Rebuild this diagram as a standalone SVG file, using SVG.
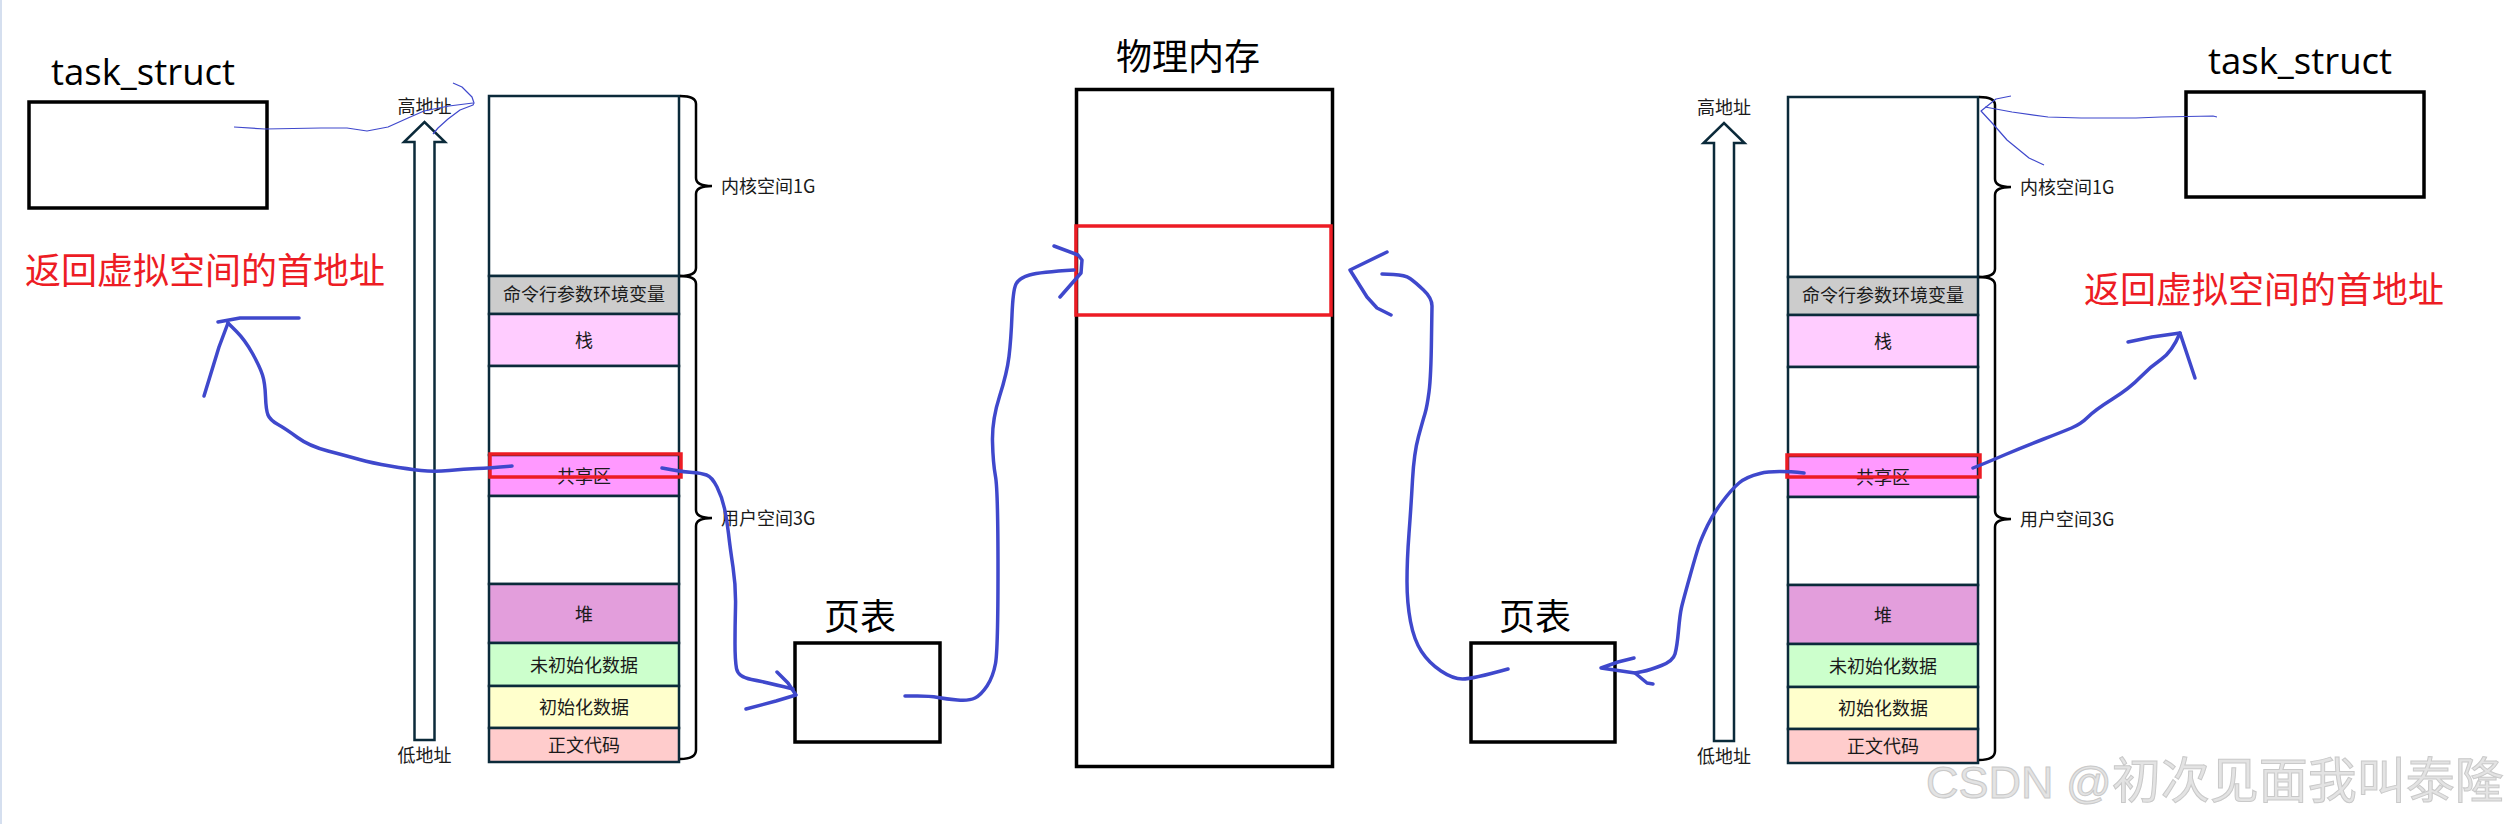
<svg xmlns="http://www.w3.org/2000/svg" width="2511" height="824" viewBox="0 0 2511 824">
<style>
text{font-family:"Noto Sans CJK SC","Liberation Sans",sans-serif;fill:#000}
.s{font-size:18px;text-anchor:middle;dominant-baseline:central;fill:#1a1a1a}
.l{font-size:18px;dominant-baseline:central;fill:#1a1a1a}
.b{font-size:36px;text-anchor:middle;dominant-baseline:central}
.r{font-size:36px;text-anchor:middle;dominant-baseline:central;fill:#ed1c24}
.t{font-family:"Open Sans","Liberation Sans",sans-serif;font-size:36.500px;text-anchor:middle}
.box{fill:#fff;stroke:#000;stroke-width:3.5}
.row{stroke:#0b2a3a;stroke-width:2.5}
.hl{fill:none;stroke:#ed1c24;stroke-width:3.5}
.br{fill:none;stroke:#000;stroke-width:2.5}
.ar{fill:#fff;stroke:#0b2a3a;stroke-width:2.5}
.p{fill:none;stroke:#3f48cc;stroke-width:3.5;stroke-linejoin:round;stroke-linecap:round}
.q{fill:none;stroke:#3f48cc;stroke-width:1.2;stroke-linejoin:round}
.wm{font-family:"Liberation Sans","Noto Sans CJK SC",sans-serif;font-size:45px;fill:#e3e3e3;stroke:#c9c9c9;stroke-width:1}
.wm tspan{font-family:"Noto Sans CJK SC",sans-serif;font-size:49px}
</style>
<rect width="2511" height="824" fill="#fff"/>
<rect width="2" height="824" fill="#d5dfef"/>
<g id="left-task-struct">
<text class="t" x="143" y="85">task_struct</text>
<rect class="box" x="29" y="102" width="238" height="106"/>
</g>
<text class="r" x="205" y="268">返回虚拟空间的首地址</text>
<g id="left-address-axis">
<path class="ar" d="M414.500,740V142H404L424.500,122L445,142H434.500V740Z"/>
<text class="s" x="424.500" y="104.500">高地址</text>
<text class="s" x="424.500" y="754">低地址</text>
</g>
<g id="left-virtual-space">
<rect class="row" x="489" y="96" width="190" height="180" fill="#fff"/>
<rect class="row" x="489" y="276" width="190" height="38" fill="#ccc"/>
<rect class="row" x="489" y="314" width="190" height="52" fill="#fcf"/>
<rect class="row" x="489" y="366" width="190" height="89" fill="#fff"/>
<rect class="row" x="489" y="455" width="190" height="41" fill="#f9f"/>
<rect class="row" x="489" y="496" width="190" height="88" fill="#fff"/>
<rect class="row" x="489" y="584" width="190" height="59" fill="#e39edc"/>
<rect class="row" x="489" y="643" width="190" height="43" fill="#cfc"/>
<rect class="row" x="489" y="686" width="190" height="42" fill="#ffc"/>
<rect class="row" x="489" y="728" width="190" height="34" fill="#fcc"/>
<text class="s" x="584" y="293">命令行参数环境变量</text>
<text class="s" x="584" y="339">栈</text>
<text class="s" x="584" y="475">共享区</text>
<text class="s" x="584" y="613">堆</text>
<text class="s" x="584" y="664">未初始化数据</text>
<text class="s" x="584" y="706">初始化数据</text>
<text class="s" x="584" y="744">正文代码</text>
<rect class="hl" x="490" y="454" width="191" height="23"/>
<path class="br" d="M680,96Q696,96 696,104V178Q696,186 712,186Q696,186 696,194V268Q696,276 680,276"/>
<path class="br" d="M680,276Q696,276 696,284V510Q696,518 712,518Q696,518 696,526V750Q696,759 680,759"/>
<text class="l" x="721" y="185">内核空间1G</text>
<text class="l" x="721" y="517">用户空间3G</text>
</g>
<g id="left-page-table">
<text class="b" x="860" y="613.500">页表</text>
<rect class="box" x="795" y="643" width="145" height="99"/>
</g>
<g id="physical-memory">
<text class="b" x="1188" y="53.500">物理内存</text>
<rect class="box" x="1076.500" y="89.500" width="256" height="677"/>
<rect class="hl" x="1076" y="226" width="255" height="89"/>
</g>
<g id="right-page-table">
<text class="b" x="1535" y="613.500">页表</text>
<rect class="box" x="1471" y="643" width="144" height="99"/>
</g>
<g id="right-virtual-space">
<rect class="row" x="1788" y="97" width="190" height="180" fill="#fff"/>
<rect class="row" x="1788" y="277" width="190" height="38" fill="#ccc"/>
<rect class="row" x="1788" y="315" width="190" height="52" fill="#fcf"/>
<rect class="row" x="1788" y="367" width="190" height="89" fill="#fff"/>
<rect class="row" x="1788" y="456" width="190" height="41" fill="#f9f"/>
<rect class="row" x="1788" y="497" width="190" height="88" fill="#fff"/>
<rect class="row" x="1788" y="585" width="190" height="59" fill="#e39edc"/>
<rect class="row" x="1788" y="644" width="190" height="43" fill="#cfc"/>
<rect class="row" x="1788" y="687" width="190" height="42" fill="#ffc"/>
<rect class="row" x="1788" y="729" width="190" height="34" fill="#fcc"/>
<text class="s" x="1883" y="294">命令行参数环境变量</text>
<text class="s" x="1883" y="340">栈</text>
<text class="s" x="1883" y="476">共享区</text>
<text class="s" x="1883" y="614">堆</text>
<text class="s" x="1883" y="665">未初始化数据</text>
<text class="s" x="1883" y="707">初始化数据</text>
<text class="s" x="1883" y="745">正文代码</text>
<rect class="hl" x="1787" y="455" width="193" height="22"/>
<path class="br" d="M1979,97Q1995,97 1995,105V179Q1995,187 2011,187Q1995,187 1995,195V269Q1995,277 1979,277"/>
<path class="br" d="M1979,277Q1995,277 1995,285V511Q1995,519 2011,519Q1995,519 1995,527V751Q1995,760 1979,760"/>
<text class="l" x="2020" y="186">内核空间1G</text>
<text class="l" x="2020" y="518">用户空间3G</text>
</g>
<g id="right-address-axis">
<path class="ar" d="M1714,741V143H1703.500L1724,123L1744.500,143H1734V741Z"/>
<text class="s" x="1724" y="105.500">高地址</text>
<text class="s" x="1724" y="755">低地址</text>
</g>
<g id="right-task-struct">
<text class="t" x="2300" y="74">task_struct</text>
<rect class="box" x="2186" y="92" width="238" height="105"/>
</g>
<text class="r" x="2264" y="287">返回虚拟空间的首地址</text>
<g id="connectors">
<polyline class="q" points="234,127 265,129 321,128 347,128 367,131 388,127 408,118 424,111 449,106 473,103"/>
<polyline class="q" points="453,83 462,87 467,92 472,97 474,103 473,105 460,110 448,119 438,128 433,134"/>
<polyline class="q" points="2217,117 2213,116 2161,117 2136,118 2081,118 2048,117 2012,112 1985,107"/>
<polyline class="q" points="2011,96 1996,99 1981,111 1993,124 2007,140 2029,158 2044,165"/>
<polyline class="p" points="204,396 219,347 228,323"/>
<path class="p" d="M228,323L236.500,331.500Q245,340 252.500,353.500Q260,367 262.500,375Q265,383 265.500,396.500Q266,410 268,415Q270,420 278,424.500Q286,429 297.500,437.500Q309,446 328,451Q347,456 359.500,459.500Q372,463 390,466Q408,469 421,470.500Q434,472 449,470.500Q464,469 477,468.500Q490,468 512,466"/>
<polyline class="p" points="218,322 240,318 299,318"/>
<path class="p" d="M662,468L673,470Q684,472 692.500,472.500Q701,473 706.500,475Q712,477 717,487Q722,497 724.500,508.500Q727,520 728.500,533.500Q730,547 733,567Q736,587 735.500,607Q735,627 735,643.500Q735,660 736.500,668.500Q738,677 751.500,679.500Q765,682 793,689"/>
<polyline class="p" points="777,672 788,683 796,695 776,701 746,709"/>
<path class="p" d="M905,696L917.500,696Q930,696 938,697.500Q946,699 957.500,700Q969,701 975,698Q981,695 987,686Q993,677 995.500,663.500Q998,650 998,570Q998,490 995.500,476.500Q993,463 992.500,441.500Q992,420 999.500,396.500Q1007,373 1009,356.500Q1011,340 1012,315Q1013,290 1016,284Q1019,278 1029.500,275Q1040,272 1074,270"/>
<polyline class="p" points="1054,246 1078,255 1082,260 1081,273 1060,297"/>
<polyline class="p" points="1387,252 1350,270 1367,297 1377,308 1391,315"/>
<path class="p" d="M1382,274L1393.500,274.500Q1405,275 1410,278.500Q1415,282 1423.500,290Q1432,298 1432,306L1431.500,337.500Q1431,377 1429,392Q1427,407 1425,413.500Q1423,420 1418.500,436.500Q1414,453 1412.500,480Q1411,507 1409,533.500Q1407,560 1407,581.500Q1407,603 1410.500,621.500Q1414,640 1421.500,651.500Q1429,663 1441,671Q1453,679 1462.500,679Q1472,679 1508,669"/>
<polyline class="p" points="1634,658 1618,662 1601,668 1635,673 1647,683 1653,684"/>
<path class="p" d="M1635,673L1642.500,671.500Q1650,670 1661.500,665.500Q1673,661 1675,654Q1677,647 1678.500,630.500Q1680,614 1681.500,607.500Q1683,601 1690,576Q1697,551 1699.500,544Q1702,537 1707.500,525.500Q1713,514 1722.500,501.500Q1732,489 1739,483Q1746,477 1760,473.500Q1774,470 1804,473"/>
<path class="p" d="M1973,468L1980.500,465Q1988,462 2005.500,454.500Q2023,447 2042.500,439.500Q2062,432 2071.500,428Q2081,424 2088,417Q2095,410 2112.500,399Q2130,388 2140,377.500Q2150,367 2161,359.500Q2172,352 2180,333"/>
<polyline class="p" points="2128,342 2152,337 2180,333 2188,357 2195,378"/>
</g>
<text class="wm" x="1926" y="798">CSDN @<tspan>初次见面我叫泰隆</tspan></text>
</svg>
